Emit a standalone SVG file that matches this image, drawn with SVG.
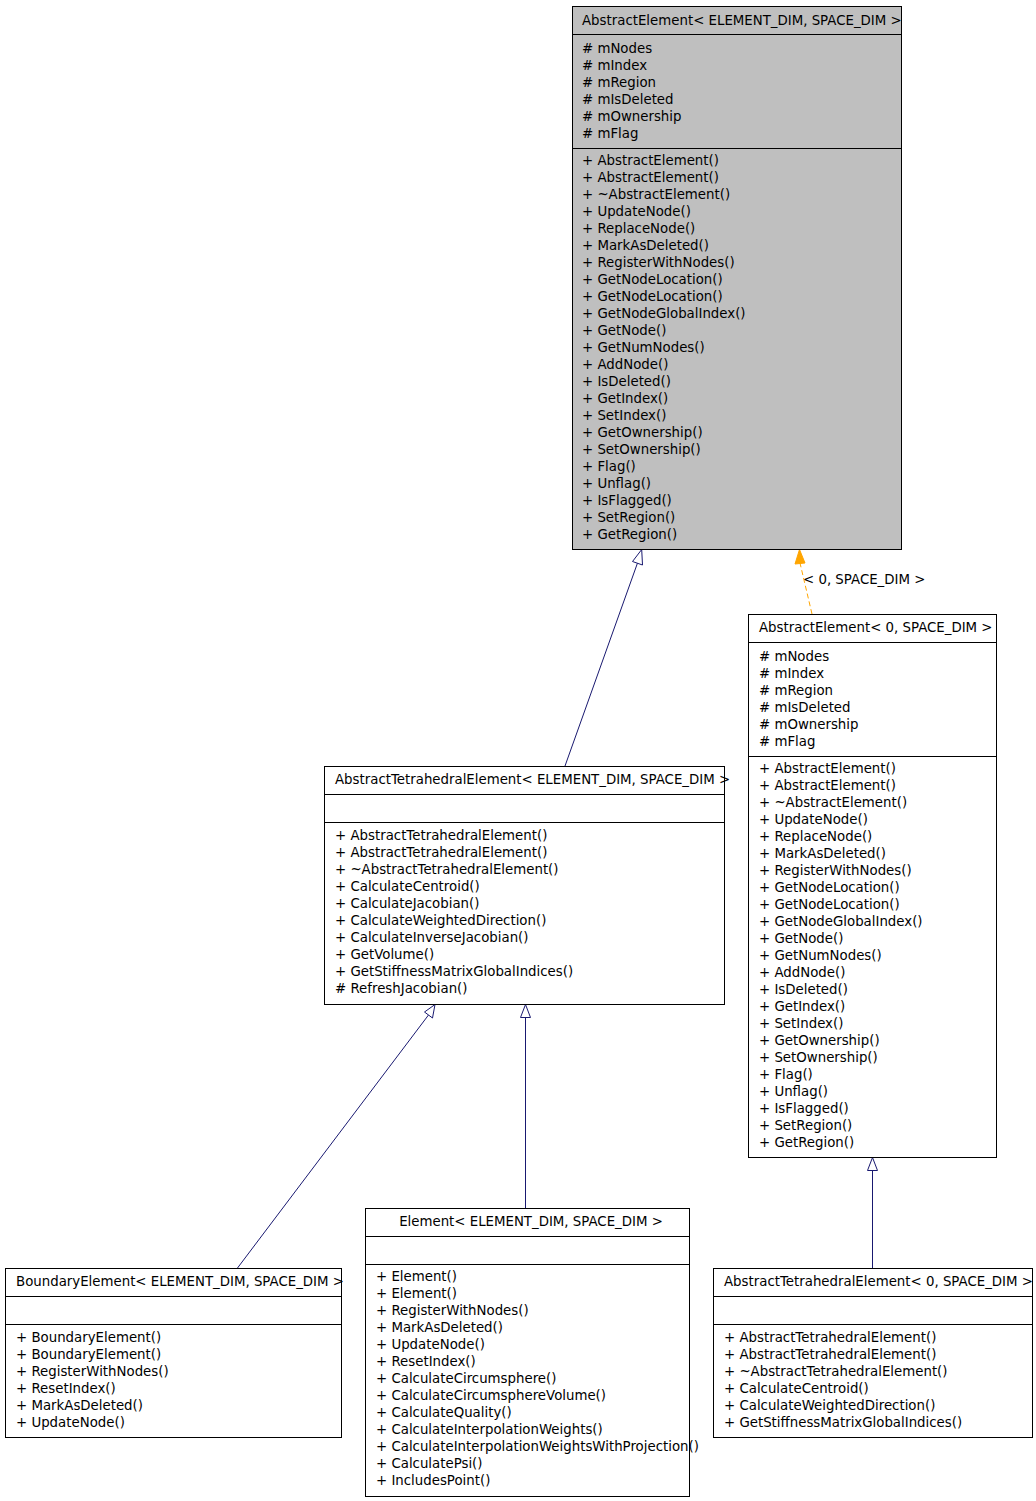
<svg xmlns="http://www.w3.org/2000/svg" width="1036" height="1501" viewBox="0 0 1036 1501">
<defs>
<style>
text{font-family:"DejaVu Sans",sans-serif;font-size:13.33px;fill:#000}
.box{fill:#fff;stroke:#000;stroke-width:1}
.gray{fill:#bfbfbf}
.div{stroke:#000;stroke-width:1}
.edge{fill:none;stroke:#191970;stroke-width:1}
.dash{fill:none;stroke:#ffa500;stroke-width:1;stroke-dasharray:5,3}
.hollow{fill:#fff;stroke:#191970;stroke-width:1}
.orange{fill:#ffa500;stroke:#ffa500;stroke-width:1}
.mid{text-anchor:middle}
</style>
</defs>
<rect width="1036" height="1501" fill="#fff"/>
<g id="connectors">
<line class="edge" x1="565" y1="766" x2="637.5" y2="563"/>
<polygon class="hollow" points="641.7,549.5 642.5,565 632.5,561.5"/>
<line class="dash" x1="812" y1="614" x2="800" y2="563"/>
<polygon class="orange" points="799.5,549.5 805,563 795,564"/>
<text x="803" y="584">&lt; 0, SPACE_DIM &gt;</text>
<line class="edge" x1="237.5" y1="1268" x2="428.5" y2="1015"/>
<polygon class="hollow" points="435,1004.5 432.5,1018 424.5,1012"/>
<line class="edge" x1="525.5" y1="1208" x2="525.5" y2="1017"/>
<polygon class="hollow" points="525.5,1004.5 530.5,1017.5 520.5,1017.5"/>
<line class="edge" x1="872.5" y1="1268" x2="872.5" y2="1170"/>
<polygon class="hollow" points="872.5,1157.5 877.5,1170.5 867.5,1170.5"/>
</g>
<g id="AbstractElement">
<rect class="box gray" x="572.5" y="6.5" width="329" height="543"/>
<line class="div" x1="572.5" y1="34.5" x2="901.5" y2="34.5"/>
<line class="div" x1="572.5" y1="148.5" x2="901.5" y2="148.5"/>
<text x="582" y="25">AbstractElement&lt; ELEMENT_DIM, SPACE_DIM &gt;</text>
<text x="582" y="53"># mNodes</text>
<text x="582" y="70"># mIndex</text>
<text x="582" y="87"># mRegion</text>
<text x="582" y="104"># mIsDeleted</text>
<text x="582" y="121"># mOwnership</text>
<text x="582" y="138"># mFlag</text>
<text x="582" y="165">+ AbstractElement()</text>
<text x="582" y="182">+ AbstractElement()</text>
<text x="582" y="199">+ ~AbstractElement()</text>
<text x="582" y="216">+ UpdateNode()</text>
<text x="582" y="233">+ ReplaceNode()</text>
<text x="582" y="250">+ MarkAsDeleted()</text>
<text x="582" y="267">+ RegisterWithNodes()</text>
<text x="582" y="284">+ GetNodeLocation()</text>
<text x="582" y="301">+ GetNodeLocation()</text>
<text x="582" y="318">+ GetNodeGlobalIndex()</text>
<text x="582" y="335">+ GetNode()</text>
<text x="582" y="352">+ GetNumNodes()</text>
<text x="582" y="369">+ AddNode()</text>
<text x="582" y="386">+ IsDeleted()</text>
<text x="582" y="403">+ GetIndex()</text>
<text x="582" y="420">+ SetIndex()</text>
<text x="582" y="437">+ GetOwnership()</text>
<text x="582" y="454">+ SetOwnership()</text>
<text x="582" y="471">+ Flag()</text>
<text x="582" y="488">+ Unflag()</text>
<text x="582" y="505">+ IsFlagged()</text>
<text x="582" y="522">+ SetRegion()</text>
<text x="582" y="539">+ GetRegion()</text>
</g>
<g id="AbstractElement0">
<rect class="box" x="748.5" y="614.5" width="248" height="543"/>
<line class="div" x1="748.5" y1="642.5" x2="996.5" y2="642.5"/>
<line class="div" x1="748.5" y1="756.5" x2="996.5" y2="756.5"/>
<text x="759" y="632">AbstractElement&lt; 0, SPACE_DIM &gt;</text>
<text x="759" y="661"># mNodes</text>
<text x="759" y="678"># mIndex</text>
<text x="759" y="695"># mRegion</text>
<text x="759" y="712"># mIsDeleted</text>
<text x="759" y="729"># mOwnership</text>
<text x="759" y="746"># mFlag</text>
<text x="759" y="773">+ AbstractElement()</text>
<text x="759" y="790">+ AbstractElement()</text>
<text x="759" y="807">+ ~AbstractElement()</text>
<text x="759" y="824">+ UpdateNode()</text>
<text x="759" y="841">+ ReplaceNode()</text>
<text x="759" y="858">+ MarkAsDeleted()</text>
<text x="759" y="875">+ RegisterWithNodes()</text>
<text x="759" y="892">+ GetNodeLocation()</text>
<text x="759" y="909">+ GetNodeLocation()</text>
<text x="759" y="926">+ GetNodeGlobalIndex()</text>
<text x="759" y="943">+ GetNode()</text>
<text x="759" y="960">+ GetNumNodes()</text>
<text x="759" y="977">+ AddNode()</text>
<text x="759" y="994">+ IsDeleted()</text>
<text x="759" y="1011">+ GetIndex()</text>
<text x="759" y="1028">+ SetIndex()</text>
<text x="759" y="1045">+ GetOwnership()</text>
<text x="759" y="1062">+ SetOwnership()</text>
<text x="759" y="1079">+ Flag()</text>
<text x="759" y="1096">+ Unflag()</text>
<text x="759" y="1113">+ IsFlagged()</text>
<text x="759" y="1130">+ SetRegion()</text>
<text x="759" y="1147">+ GetRegion()</text>
</g>
<g id="AbstractTetrahedralElement">
<rect class="box" x="324.5" y="766.5" width="400" height="238"/>
<line class="div" x1="324.5" y1="794.5" x2="724.5" y2="794.5"/>
<line class="div" x1="324.5" y1="822.5" x2="724.5" y2="822.5"/>
<text x="335" y="784">AbstractTetrahedralElement&lt; ELEMENT_DIM, SPACE_DIM &gt;</text>
<text x="335" y="840">+ AbstractTetrahedralElement()</text>
<text x="335" y="857">+ AbstractTetrahedralElement()</text>
<text x="335" y="874">+ ~AbstractTetrahedralElement()</text>
<text x="335" y="891">+ CalculateCentroid()</text>
<text x="335" y="908">+ CalculateJacobian()</text>
<text x="335" y="925">+ CalculateWeightedDirection()</text>
<text x="335" y="942">+ CalculateInverseJacobian()</text>
<text x="335" y="959">+ GetVolume()</text>
<text x="335" y="976">+ GetStiffnessMatrixGlobalIndices()</text>
<text x="335" y="993"># RefreshJacobian()</text>
</g>
<g id="BoundaryElement">
<rect class="box" x="5.5" y="1268.5" width="336" height="169"/>
<line class="div" x1="5.5" y1="1296.5" x2="341.5" y2="1296.5"/>
<line class="div" x1="5.5" y1="1324.5" x2="341.5" y2="1324.5"/>
<text x="16" y="1286">BoundaryElement&lt; ELEMENT_DIM, SPACE_DIM &gt;</text>
<text x="16" y="1342">+ BoundaryElement()</text>
<text x="16" y="1359">+ BoundaryElement()</text>
<text x="16" y="1376">+ RegisterWithNodes()</text>
<text x="16" y="1393">+ ResetIndex()</text>
<text x="16" y="1410">+ MarkAsDeleted()</text>
<text x="16" y="1427">+ UpdateNode()</text>
</g>
<g id="Element">
<rect class="box" x="365.5" y="1208.5" width="324" height="288"/>
<line class="div" x1="365.5" y1="1236.5" x2="689.5" y2="1236.5"/>
<line class="div" x1="365.5" y1="1264.5" x2="689.5" y2="1264.5"/>
<text class="mid" x="531" y="1226">Element&lt; ELEMENT_DIM, SPACE_DIM &gt;</text>
<text x="376" y="1281">+ Element()</text>
<text x="376" y="1298">+ Element()</text>
<text x="376" y="1315">+ RegisterWithNodes()</text>
<text x="376" y="1332">+ MarkAsDeleted()</text>
<text x="376" y="1349">+ UpdateNode()</text>
<text x="376" y="1366">+ ResetIndex()</text>
<text x="376" y="1383">+ CalculateCircumsphere()</text>
<text x="376" y="1400">+ CalculateCircumsphereVolume()</text>
<text x="376" y="1417">+ CalculateQuality()</text>
<text x="376" y="1434">+ CalculateInterpolationWeights()</text>
<text x="376" y="1451">+ CalculateInterpolationWeightsWithProjection()</text>
<text x="376" y="1468">+ CalculatePsi()</text>
<text x="376" y="1485">+ IncludesPoint()</text>
</g>
<g id="AbstractTetrahedralElement0">
<rect class="box" x="713.5" y="1268.5" width="319" height="169"/>
<line class="div" x1="713.5" y1="1296.5" x2="1032.5" y2="1296.5"/>
<line class="div" x1="713.5" y1="1324.5" x2="1032.5" y2="1324.5"/>
<text x="724" y="1286">AbstractTetrahedralElement&lt; 0, SPACE_DIM &gt;</text>
<text x="724" y="1342">+ AbstractTetrahedralElement()</text>
<text x="724" y="1359">+ AbstractTetrahedralElement()</text>
<text x="724" y="1376">+ ~AbstractTetrahedralElement()</text>
<text x="724" y="1393">+ CalculateCentroid()</text>
<text x="724" y="1410">+ CalculateWeightedDirection()</text>
<text x="724" y="1427">+ GetStiffnessMatrixGlobalIndices()</text>
</g>
</svg>
